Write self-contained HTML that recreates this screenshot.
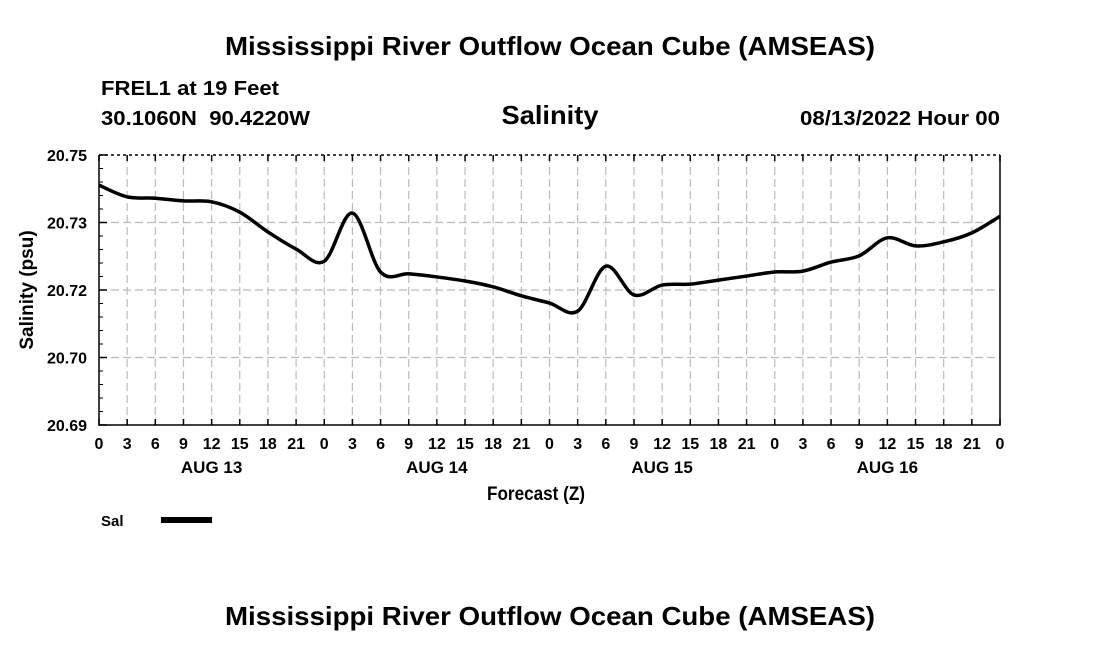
<!DOCTYPE html>
<html><head><meta charset="utf-8"><style>
body{margin:0;background:#fff;}
svg text{font-family:"Liberation Sans",Arial,sans-serif;font-weight:bold;fill:#000;}
</style></head><body>
<svg id="c" width="1100" height="650" xmlns="http://www.w3.org/2000/svg">
<text x="550" y="55" font-size="26" text-anchor="middle" textLength="650" lengthAdjust="spacingAndGlyphs">Mississippi River Outflow Ocean Cube (AMSEAS)</text>
<text x="101" y="95" font-size="20" textLength="178" lengthAdjust="spacingAndGlyphs">FREL1 at 19 Feet</text>
<text x="101" y="125" font-size="20" textLength="209" lengthAdjust="spacingAndGlyphs" xml:space="preserve">30.1060N  90.4220W</text>
<text x="550" y="124" font-size="26" text-anchor="middle" textLength="97" lengthAdjust="spacingAndGlyphs">Salinity</text>
<text x="1000" y="125" font-size="20" text-anchor="end" textLength="200" lengthAdjust="spacingAndGlyphs">08/13/2022 Hour 00</text>
<g id="grid"></g>
<g id="axes"></g>
<path id="line" fill="none" stroke="#000" stroke-width="3.5"/>
<text x="33" y="290" font-size="19" text-anchor="middle" transform="rotate(-90 33 290)">Salinity (psu)</text>
<text x="536" y="500" font-size="19" text-anchor="middle" textLength="98" lengthAdjust="spacingAndGlyphs">Forecast (Z)</text>
<text x="101" y="526" font-size="15">Sal</text>
<line x1="161" y1="520" x2="212" y2="520" stroke="#000" stroke-width="6"/>
<text x="550" y="625" font-size="26" text-anchor="middle" textLength="650" lengthAdjust="spacingAndGlyphs">Mississippi River Outflow Ocean Cube (AMSEAS)</text>
</svg>
<script>
const hours=[0,3,6,9,12,15,18,21,24,27,30,33,36,39,42,45,48,51,54,57,60,63,66,69,72,75,78,81,84,87,90,93,96];
const salinity=[20.7433,20.7407,20.7404,20.7398,20.7396,20.7373,20.7329,20.7291,20.7264,20.7371,20.7240,20.7236,20.7229,20.7220,20.7207,20.7187,20.7171,20.7153,20.7253,20.7189,20.7211,20.7213,20.7222,20.7231,20.7240,20.7242,20.7262,20.7276,20.7316,20.7298,20.7307,20.7327,20.7364];
const yTicks=[20.69,20.705,20.72,20.735,20.75];
const yTickLabels=["20.69","20.70","20.72","20.73","20.75"];
const xTickLabels=["0","3","6","9","12","15","18","21","0","3","6","9","12","15","18","21","0","3","6","9","12","15","18","21","0","3","6","9","12","15","18","21","0"];
const dayLabels=["AUG 13","AUG 14","AUG 15","AUG 16"];
const L=99,R=1000,T=155,B=425;
const X=h=>L+(h-0)/96*(R-L);
const Y=v=>B-(v-20.69)/0.06*(B-T);
const NS="http://www.w3.org/2000/svg";
function mk(tag,attrs,parent){const e=document.createElementNS(NS,tag);for(const k in attrs)e.setAttribute(k,attrs[k]);document.getElementById(parent).appendChild(e);return e;}
xTickLabels.forEach((t,i)=>{const x=X(i*3);
 if(i>0&&i<xTickLabels.length-1){const g=mk('line',{x1:x,y1:T,x2:x,y2:B,stroke:'#bbb','stroke-width':1.2,'stroke-dasharray':'8,4'},'grid');
 
 }
 const tk=mk('line',{x1:x,y1:B,x2:x,y2:B-6,stroke:'#000','stroke-width':1.5},'axes');
 
 
 const tt=mk('line',{x1:x,y1:T,x2:x,y2:T+6,stroke:'#000','stroke-width':1.5},'axes');
 
 
 const lb=mk('text',{x:x,y:B+24,'font-size':16,'text-anchor':'middle'},'axes');lb.textContent=t;
 
 
});
dayLabels.forEach((d,i)=>{const t=mk('text',{x:X(12+24*i),y:B+48,'font-size':17,'text-anchor':'middle'},'axes');t.textContent=d;
 
 });
yTicks.forEach((v,i)=>{const y=Y(v);
 if(i>0&&i<yTicks.length-1){const g=mk('line',{x1:L,y1:y,x2:R,y2:y,stroke:'#bbb','stroke-width':1.2,'stroke-dasharray':'8,4'},'grid');
 
 }
 const tk=mk('line',{x1:L,y1:y,x2:L+8,y2:y,stroke:'#000','stroke-width':1.5},'axes');
 
 
 const lb=mk('text',{x:L-12,y:y+6,'font-size':16,'text-anchor':'end'},'axes');lb.textContent=yTickLabels[i];
 
 
});
for(let i=0;i<yTicks.length-1;i++){for(let k=1;k<5;k++){const y=Y(yTicks[i]+(yTicks[i+1]-yTicks[i])*k/5);
 const m=mk('line',{x1:L,y1:y,x2:L+4,y2:y,stroke:'#000','stroke-width':1},'axes');
 
 }}
const f=mk('path',{d:`M${L},${T}V${B}H${R}V${T}`,fill:'none',stroke:'#000','stroke-width':1.5},'axes');


const tb=mk('line',{x1:L,y1:T,x2:R,y2:T,stroke:'#000','stroke-width':1.5,'stroke-dasharray':'3,3'},'axes');


const P=hours.map((h,i)=>[X(h),Y(salinity[i])]);
let d=`M${P[0][0]},${P[0][1]}`;
for(let i=0;i<P.length-1;i++){const p0=P[Math.max(0,i-1)],p1=P[i],p2=P[i+1],p3=P[Math.min(P.length-1,i+2)];
 d+=` C${p1[0]+(p2[0]-p0[0])/6},${p1[1]+(p2[1]-p0[1])/6} ${p2[0]-(p3[0]-p1[0])/6},${p2[1]-(p3[1]-p1[1])/6} ${p2[0]},${p2[1]}`;}
document.getElementById('line').setAttribute('d',d);
</script>
</body></html>
